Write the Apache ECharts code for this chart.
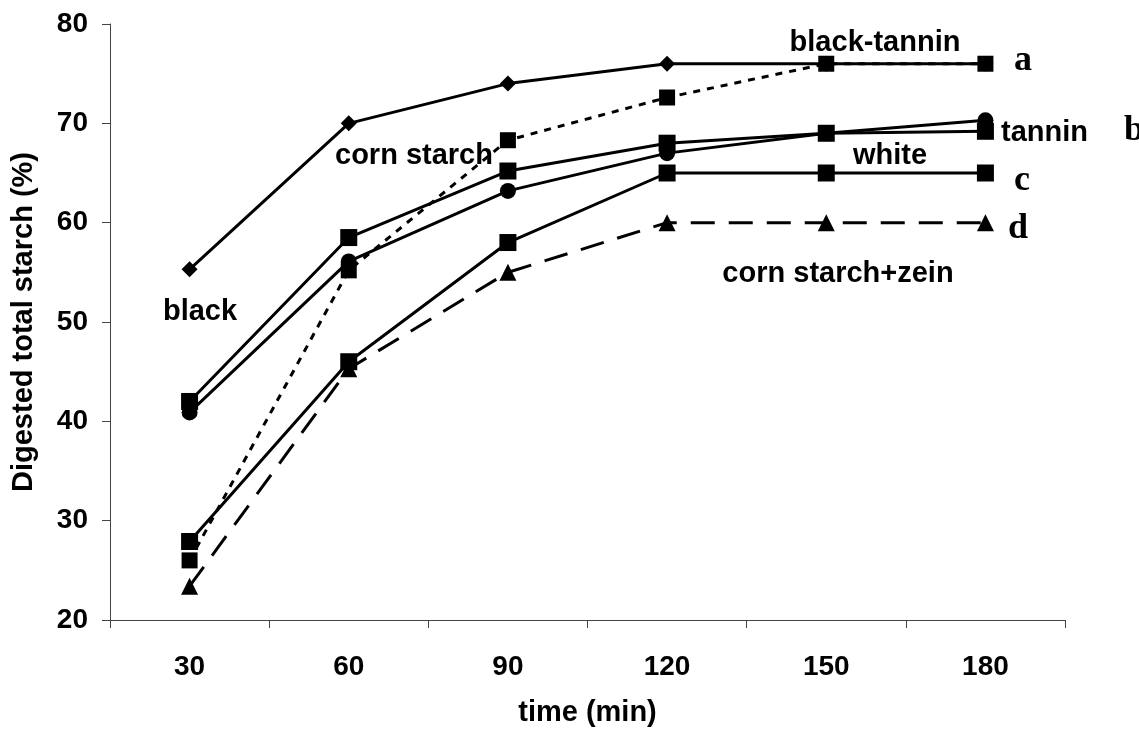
<!DOCTYPE html>
<html>
<head>
<meta charset="utf-8">
<script src="https://cdn.jsdelivr.net/npm/echarts@6/dist/echarts.min.js"></script>
<style>
  html, body { margin: 0; padding: 0; background: #fff; }
  #chart { width: 1139px; height: 732px; }
</style>
</head>
<body>
<div id="chart"></div>
<script>
// Digestion time points (min)
const times = ['30', '60', '90', '120', '150', '180'];

// Digested total starch (%) per sample
const black        = [55.3, 70.0, 74.0, 76.0, 76.0, 76.0];
const cornStarch   = [26.0, 55.2, 68.3, 72.6, 76.0, 76.0];
const blackTannin  = [42.0, 58.5, 65.2, 68.0, 69.0, 69.2];
const tannin       = [40.9, 56.1, 63.2, 67.0, 69.0, 70.3];
const white        = [27.9, 46.0, 58.0, 65.0, 65.0, 65.0];
const cornZein     = [23.4, 45.3, 55.0, 60.0, 60.0, 60.0];

// Y axis tick range
const yMin = 20, yMax = 80, yStep = 10;

const SANS = '"Liberation Sans", Arial, sans-serif';
const SERIF = '"Liberation Serif", "Times New Roman", serif';

function lineSeries(name, data, symbol, size, lineType) {
  return {
    name: name,
    type: 'line',
    data: data,
    symbol: symbol,
    symbolSize: size,
    showSymbol: true,
    lineStyle: { color: '#000', width: 3, type: lineType },
    itemStyle: { color: '#000', borderWidth: 0 },
    emphasis: { disabled: true }
  };
}

// Annotation text: [text, x, baseline y, font family, size, align]
const notes = [
  ['black', 200, 321, SANS, 29, 'center'],
  ['corn starch', 335, 165, SANS, 29, 'left'],
  ['black-tannin', 875, 52, SANS, 29, 'center'],
  ['tannin', 1001, 142, SANS, 29, 'left'],
  ['white', 890, 165, SANS, 29, 'center'],
  ['corn starch+zein', 838, 283, SANS, 29, 'center'],
  ['a', 1014, 72, SERIF, 36, 'left'],
  ['b', 1124, 142, SERIF, 36, 'left'],
  ['c', 1014, 192, SERIF, 36, 'left'],
  ['d', 1008, 240, SERIF, 36, 'left']
];

const chart = echarts.init(document.getElementById('chart'), null, { renderer: 'canvas' });

chart.setOption({
  animation: false,
  backgroundColor: '#fff',
  grid: { left: 110, right: 74, top: 24, bottom: 110, containLabel: false },
  xAxis: {
    type: 'category',
    data: times,
    boundaryGap: true,
    name: 'time (min)',
    nameLocation: 'middle',
    nameGap: 78,
    nameTextStyle: { color: '#000', fontFamily: SANS, fontWeight: 'bold', fontSize: 29 },
    axisLine: { lineStyle: { color: '#444', width: 1 } },
    axisTick: { show: true, length: 8, inside: false, lineStyle: { color: '#444' } },
    axisLabel: { color: '#000', fontFamily: SANS, fontWeight: 'bold', fontSize: 28, margin: 33 },
    splitLine: { show: false }
  },
  yAxis: {
    type: 'value',
    min: yMin,
    max: yMax,
    interval: yStep,
    name: 'Digested total starch (%)',
    nameLocation: 'middle',
    nameGap: 72,
    nameTextStyle: { color: '#000', fontFamily: SANS, fontWeight: 'bold', fontSize: 29 },
    axisLine: { show: true, lineStyle: { color: '#444', width: 1 } },
    axisTick: { show: true, length: 8, lineStyle: { color: '#444' } },
    axisLabel: { color: '#000', fontFamily: SANS, fontWeight: 'bold', fontSize: 28, margin: 22 },
    splitLine: { show: false }
  },
  series: [
    lineSeries('white', white, 'rect', 17, 'solid'),
    lineSeries('corn starch+zein', cornZein, 'triangle', 17, [24, 14]),
    lineSeries('tannin', tannin, 'circle', 16, 'solid'),
    lineSeries('black-tannin', blackTannin, 'rect', 17, 'solid'),
    lineSeries('black', black, 'diamond', 16, 'solid'),
    lineSeries('corn starch', cornStarch, 'rect', 16, [7, 7])
  ],
  graphic: notes.map(function (n) {
    return {
      type: 'text',
      silent: true,
      style: {
        text: n[0],
        x: n[1],
        y: n[2] - Math.round(n[4] * 0.31),
        fill: '#000',
        font: 'bold ' + n[4] + 'px ' + n[3],
        textAlign: n[5],
        textVerticalAlign: 'middle'
      }
    };
  })
});
</script>
</body>
</html>
